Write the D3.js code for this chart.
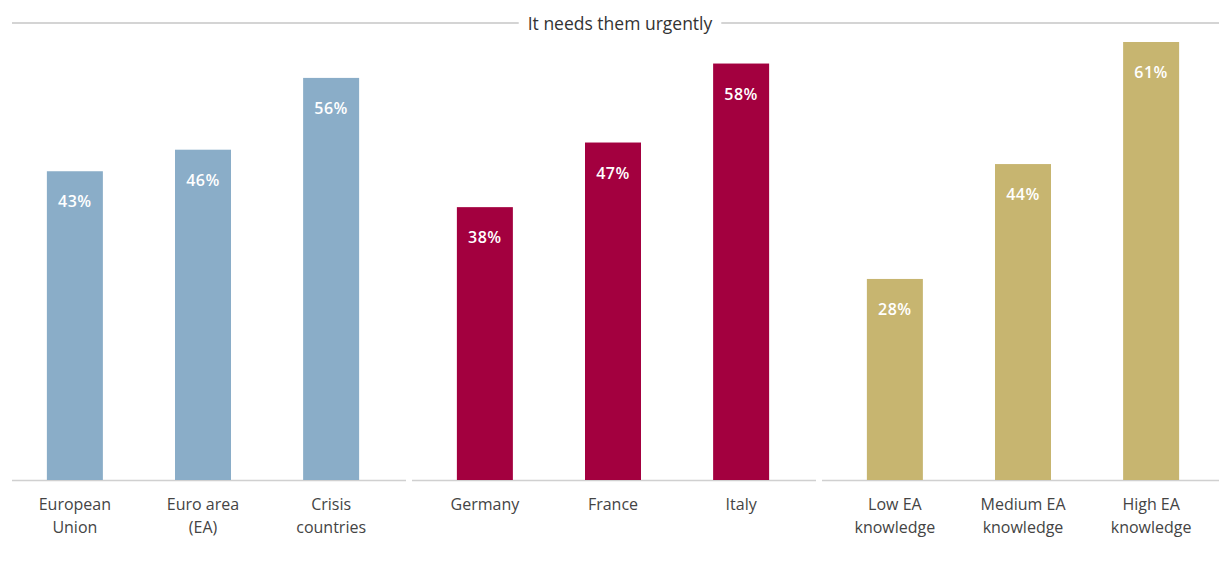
<!DOCTYPE html>
<html>
<head>
<meta charset="utf-8">
<script src="https://cdn.jsdelivr.net/npm/d3@7"></script>
<style>
  body { margin: 0; background: #fff; }
  svg { display: block; }
</style>
</head>
<body>
<div id="vis-container"></div>
<script>
const groups = ["all", "countries", "knowledge"];
const categories = [
    ["European|Union", "Euro area|(EA)", "Crisis|countries"],
    ["Germany", "France", "Italy"],
    ["Low EA|knowledge", "Medium EA|knowledge", "High EA|knowledge"]
];
const values = [
    [43, 46, 56],
    [38, 47, 58],
    [28, 44, 61]
];
const colors = ["#8aadc8", "#a3003f", "#c7b570"];
const title = "It needs them urgently";

const width = 1219, height = 562;
const baseY = 480, barW = 56;

let svg = d3.select("#vis-container")
    .append("svg")
    .attr("width", width)
    .attr("height", height);

let x0 = d3.scaleBand()
    .domain(groups)
    .range([-2, 1228]);

let x1 = d3.scalePoint()
    .domain([0, 1, 2])
    .range([0, x0.bandwidth()])
    .padding(0.6);

let y = d3.scaleLinear()
    .domain([0, 61])
    .range([baseY, 42]);

// title with rules either side
let t = svg.append("text")
    .attr("x", 620)
    .attr("y", 30)
    .attr("text-anchor", "middle")
    .attr("font-family", "Open Sans")
    .attr("font-size", 17.5)
    .attr("fill", "#333")
    .text(title);
let tw = t.node().getComputedTextLength();
svg.append("line")
    .attr("x1", 12).attr("x2", 620 - tw / 2 - 9)
    .attr("y1", 23).attr("y2", 23)
    .attr("stroke", "#d4d4d4").attr("stroke-width", 2);
svg.append("line")
    .attr("x1", 620 + tw / 2 + 9).attr("x2", width)
    .attr("y1", 23).attr("y2", 23)
    .attr("stroke", "#d4d4d4").attr("stroke-width", 2);

let group_g = svg.selectAll(".grp")
    .data(groups)
    .enter().append("g")
    .attr("class", "grp")
    .attr("transform", d => `translate(${x0(d)},0)`);

group_g.append("line")
    .attr("x1", (d, i) => i === 0 ? 14 : 4)
    .attr("x2", x0.bandwidth() - 2)
    .attr("y1", baseY + 0.5).attr("y2", baseY + 0.5)
    .attr("stroke", "#d0d0d0").attr("stroke-width", 1.5);

group_g.each(function(g, gi){
    let rows = values[gi].map((v, i) => ({v: v, i: i, label: categories[gi][i]}));
    let bars = d3.select(this).selectAll(".bar")
        .data(rows)
        .enter().append("g")
        .attr("class", "bar");

    bars.append("rect")
        .attr("x", d => x1(d.i) - barW / 2)
        .attr("y", d => y(d.v))
        .attr("width", barW)
        .attr("height", d => baseY - y(d.v))
        .attr("fill", colors[gi]);

    bars.append("text")
        .attr("x", d => x1(d.i))
        .attr("y", d => y(d.v) + 36)
        .attr("text-anchor", "middle")
        .attr("font-family", "Open Sans")
        .attr("font-weight", 600)
        .attr("font-size", 16)
        .attr("letter-spacing", 0.5)
        .attr("fill", "#fff")
        .text(d => d.v + "%");

    bars.append("text")
        .attr("text-anchor", "middle")
        .attr("font-family", "Open Sans")
        .attr("font-size", 16)
        .attr("fill", "#444")
        .selectAll("tspan")
        .data(d => d.label.split("|").map(s => ({s: s, x: x1(d.i)})))
        .enter().append("tspan")
        .attr("x", d => d.x)
        .attr("y", (d, k) => 510 + k * 23)
        .text(d => d.s);
});
</script>
</body>
</html>
